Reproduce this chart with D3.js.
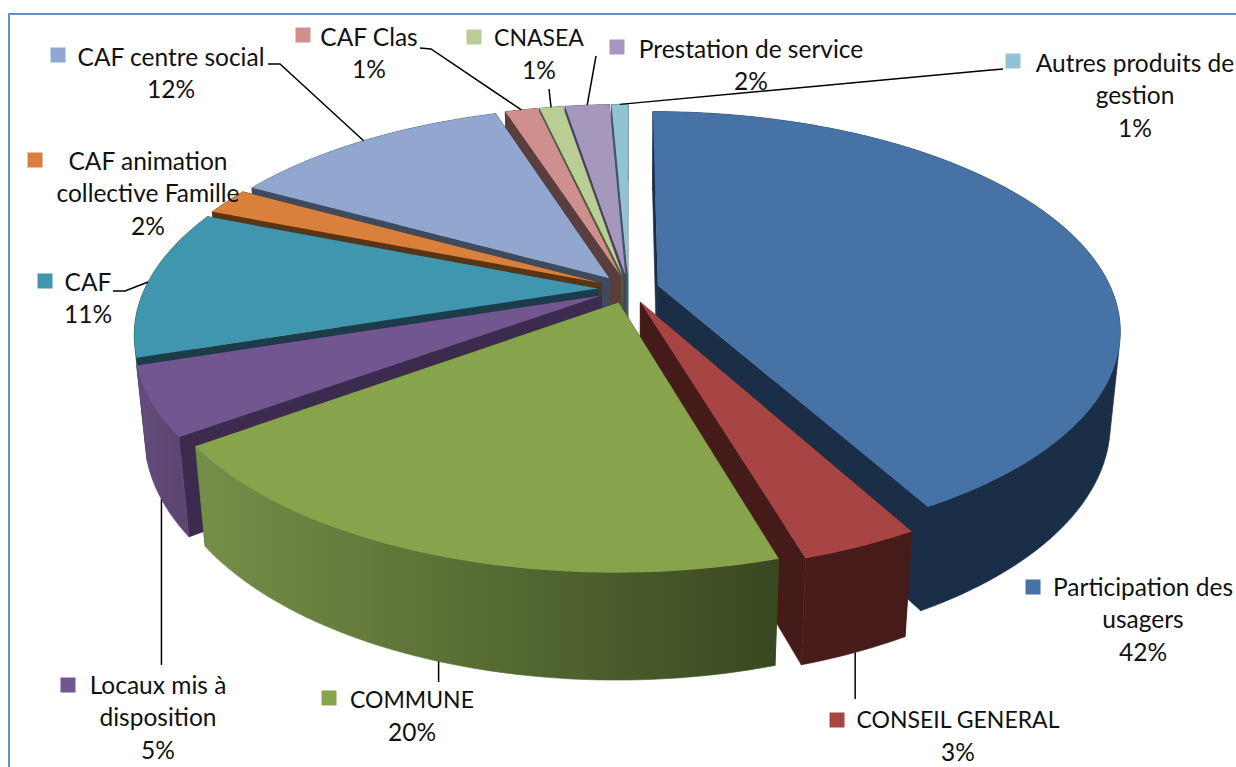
<!DOCTYPE html>
<html>
<head>
<meta charset="utf-8">
<script src="https://cdnjs.cloudflare.com/ajax/libs/d3/7.8.5/d3.min.js"></script>
<style>
  html, body { margin: 0; padding: 0; background: #fff; }
  svg { display: block; }
  text { font-family: Lato, "Open Sans", sans-serif; font-size: 24.5px; fill: #111; }
  text.caps { font-size: 23px; }
</style>
</head>
<body>
<svg id="chart" width="1236" height="767"></svg>
<script>
// Chart data, in pie order (clockwise from the top)
const categories = ["Participation des usagers", "CONSEIL GENERAL", "COMMUNE", "Locaux mis à disposition", "CAF",
    "CAF animation collective Famille", "CAF centre social", "CAF Clas", "CNASEA", "Prestation de service", "Autres produits de gestion"];
const percents = [42, 3.4, 19.6, 5, 11, 2, 12, 1.4, 1, 1.9, 0.7];

// Colours per slice: top face, cut faces, outer wall left and right end
const topColors = ["#4672a6", "#a64543", "#87a34c", "#72568f", "#4096ae", "#d8803c", "#92a7cf", "#cf8f8e", "#b8ce95", "#a698bd", "#92c3d5"];
const sideColors = ["#1b2e47", "#451b1a", "#3a4a20", "#3c2b4f", "#1a3d49", "#5a3413", "#3e4a5e", "#5a3d3d", "#4d5e3a", "#4a4060", "#3e5a66"];
const wallLeft = ["#1b2e47", "#481c1a", "#768f47", "#644c7d", "#1a3d49", "#5a3413", "#3e4a5e", "#5a3d3d", "#4d5e3a", "#4a4060", "#3e5a66"];
const wallRight = ["#1b2e47", "#451b1a", "#384820", "#5c4672", "#1a3d49", "#5a3413", "#3e4a5e", "#5a3d3d", "#4d5e3a", "#4a4060", "#3e5a66"];

// Label layout: wrapped lines, text centre, first line y, legend square, leader elbow points
const labelLines = [["Participation des", "usagers", "42%"], ["CONSEIL GENERAL", "3%"], ["COMMUNE", "20%"], ["Locaux mis à", "disposition", "5%"],
    ["CAF", "11%"], ["CAF animation", "collective Famille", "2%"], ["CAF centre social", "12%"], ["CAF Clas", "1%"], ["CNASEA", "1%"],
    ["Prestation de service", "2%"], ["Autres produits de", "gestion", "1%"]];
const labelX = [1143, 958, 412, 158, 88, 148, 171, 369, 539, 751, 1135];
const labelY = [587, 720, 700, 685, 282, 161, 57, 37, 38, 49, 63];
const squareX = [1033, 837, 329, 68, 45, 35, 58, 303, 474, 617, 1013];
const squareY = [587, 720, 698, 685, 281, 160, 55, 35, 37, 47, 61];
const leaderPoints = [[], [[852, 699]], [[441, 682]], [[163, 665]], [[113, 291], [125, 291]], [], [[268, 64], [280, 64]], [[420, 48], [431, 49]],
    [[549, 89]], [[596, 56]], [[1003, 69], [980, 71]]];
// Leader ends on the top rim (0) or the bottom rim (1), the bottom ones drop straight down
const leaderDepth = [0, 1, 1, 1, 0, 0, 0, 0, 0, 0, 0];

const width = 1236, height = 767;
const svg = d3.select("#chart");

// Chart frame
svg.append("rect")
    .attr("x", 9).attr("y", 14)
    .attr("width", width + 40).attr("height", height + 40)
    .attr("fill", "#fff")
    .attr("stroke", "#6590c6")
    .attr("stroke-width", 2);

// Pie geometry
const explode = 0.067;
const tilt = 0.2;       // perspective along the depth of the disc
const sink = 0.02;      // perspective along the height
const drop = 0.44;      // height of the pie, in disc units

const pie = d3.pie().sort(null).value(d => d);
const arcs = pie(percents);

// Screen scales for the projected disc
const xScale = d3.scaleLinear().domain([-1, 1]).range([175, 1082]);
const yScale = d3.scaleLinear().domain([-1, 1]).range([79, 499]);

// Project a point of a slice: angle, radius in the disc, z 0 = top, z 1 = bottom
function project(d, angle, r, z) {
    const mid = (d.startAngle + d.endAngle) / 2;
    const x = r * Math.sin(angle) + explode * Math.sin(mid);
    const y = -r * Math.cos(angle) - explode * Math.cos(mid);
    const w = 1 - tilt * y + sink * z;
    return [xScale(x / w), yScale((y + drop * z) / w)];
}

function arcPoints(d, z) {
    const n = Math.max(4, Math.ceil((d.endAngle - d.startAngle) * 40));
    return d3.range(n + 1).map(i => project(d, d.startAngle + (d.endAngle - d.startAngle) * i / n, 1, z));
}

const closedLine = d3.line().curve(d3.curveLinearClosed);

function radialFace(d, angle) {
    return [project(d, angle, 0, 0), project(d, angle, 1, 0), project(d, angle, 1, 1), project(d, angle, 0, 1)];
}

// Gradients along the outer wall
const defs = svg.append("defs");
arcs.forEach((d, i) => {
    const a = project(d, d.startAngle, 1, 0);
    const b = project(d, d.endAngle, 1, 0);
    const grad = defs.append("linearGradient")
        .attr("id", `wall-${i}`)
        .attr("gradientUnits", "userSpaceOnUse")
        .attr("x1", Math.min(a[0], b[0])).attr("x2", Math.max(a[0], b[0]))
        .attr("y1", 0).attr("y2", 0);
    grad.append("stop").attr("offset", 0).attr("stop-color", wallLeft[i]);
    grad.append("stop").attr("offset", 1).attr("stop-color", wallRight[i]);
});

// Paint back to front
const order = d3.range(arcs.length).sort((a, b) =>
    d3.ascending(-Math.cos((arcs[a].startAngle + arcs[a].endAngle) / 2), -Math.cos((arcs[b].startAngle + arcs[b].endAngle) / 2)));

const slices = svg.selectAll("g.slice")
    .data(order)
    .enter().append("g")
    .attr("class", "slice");

slices.each(function(i) {
    const d = arcs[i];
    const g = d3.select(this);
    [d.startAngle, d.endAngle].forEach(angle => {
        g.append("path")
            .attr("d", closedLine(radialFace(d, angle)))
            .attr("fill", sideColors[i])
            .attr("stroke", sideColors[i])
            .attr("stroke-width", 0.6);
    });
    // Hull of both rims, so the wall silhouette runs tangent between them
    g.append("path")
        .attr("d", closedLine(d3.polygonHull(arcPoints(d, 0).concat(arcPoints(d, 1)))))
        .attr("fill", `url(#wall-${i})`)
        .attr("stroke", `url(#wall-${i})`)
        .attr("stroke-width", 0.6);
    g.append("path")
        .attr("d", closedLine([project(d, d.startAngle, 0, 0)].concat(arcPoints(d, 0))))
        .attr("fill", topColors[i]);
});

// Leader lines end on the slice rim
const leaderLine = d3.line();
arcs.forEach((d, i) => {
    if (!leaderPoints[i].length) return;
    const end = project(d, (d.startAngle + d.endAngle) / 2, 1, leaderDepth[i]);
    const elbows = leaderDepth[i] ? [[end[0], leaderPoints[i][0][1]]] : leaderPoints[i];
    svg.append("path")
        .attr("d", leaderLine(elbows.concat([end])))
        .attr("fill", "none")
        .attr("stroke", "#000")
        .attr("stroke-width", 1.5);
});

// Labels with legend squares
const labels = svg.selectAll("g.label")
    .data(d3.range(categories.length))
    .enter().append("g")
    .attr("class", "label");

labels.append("rect")
    .attr("x", i => squareX[i] - 7.5)
    .attr("y", i => squareY[i] - 7.5)
    .attr("width", 15).attr("height", 15)
    .attr("fill", i => topColors[i]);

labels.each(function(i) {
    d3.select(this).selectAll("text")
        .data(labelLines[i])
        .enter().append("text")
        .attr("class", t => /^[A-Z ]{4,}$/.test(t) ? "caps" : null)
        .attr("x", labelX[i])
        .attr("y", (t, k) => labelY[i] + k * 32.5)
        .attr("dy", "0.35em")
        .attr("text-anchor", "middle")
        .text(t => t);
});
</script>
</body>
</html>
